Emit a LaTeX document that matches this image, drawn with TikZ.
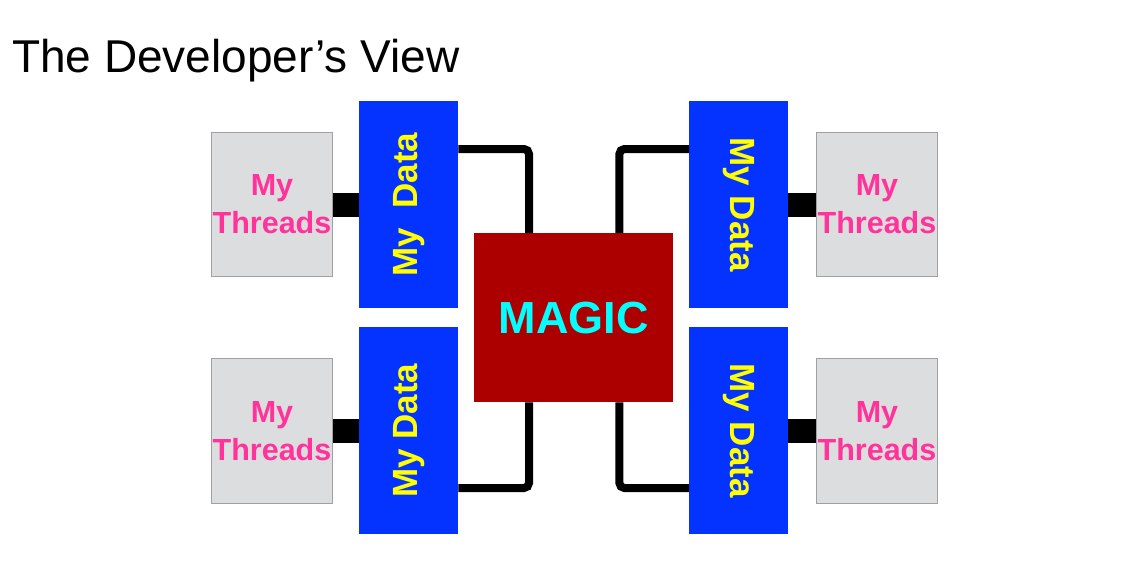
\documentclass[tikz,border=0pt]{standalone}
\usepackage{fontspec}
\setmainfont{Liberation Sans}
\usepackage{graphicx}
\usetikzlibrary{positioning,calc}
\definecolor{datablue}{RGB}{4,51,255}
\definecolor{datayellow}{RGB}{255,255,0}
\definecolor{magicred}{RGB}{172,0,0}
\definecolor{magiccyan}{RGB}{0,255,255}
\definecolor{threadgray}{RGB}{220,221,223}
\definecolor{threadedge}{RGB}{160,160,160}
\definecolor{threadpink}{RGB}{255,51,153}

\begin{document}
\begin{tikzpicture}[x=1pt,y=-1pt,
  threadbox/.style={draw=threadedge,line width=1pt,fill=threadgray,anchor=north west,
    inner sep=0pt,minimum width=121pt,minimum height=144pt,align=center,
    font=\fontsize{30.5}{38}\selectfont\bfseries,text=threadpink},
  databox/.style={fill=datablue,anchor=north west,inner sep=0pt,
    minimum width=99pt,minimum height=207pt,
    font=\fontsize{35}{42}\selectfont\bfseries,text=datayellow},
  magicbox/.style={fill=magicred,anchor=north west,inner sep=0pt,
    minimum width=199pt,minimum height=169pt,
    font=\fontsize{45}{54}\selectfont\bfseries,text=magiccyan},
  link/.style={line width=8pt,rounded corners=5pt},
  stub/.style={line width=24pt}]
  \useasboundingbox (0,0) rectangle (1131,565);

  % ── Title ──
  \node[anchor=base west,inner sep=0pt,font=\fontsize{46}{55}\selectfont] (title) at (12,72) {The Developer’s View};

  % ── Centre ──
  \node[magicbox] (magic) at (474,233) {MAGIC};

  % ── Data blocks ──
  \node[databox] (dataTL) at (359,101) {\rotatebox{90}{My\ \ Data}};
  \node[databox] (dataBL) at (359,327) {\rotatebox{90}{My Data}};
  \node[databox] (dataTR) at (689,101) {\rotatebox{-90}{My Data}};
  \node[databox] (dataBR) at (689,327) {\rotatebox{-90}{My Data}};

  % ── Thread blocks ──
  \node[threadbox] (thrTL) at (211,132) {My\\Threads};
  \node[threadbox,minimum height=145pt] (thrBL) at (211,358) {My\\Threads};
  \node[threadbox] (thrTR) at (816,132) {My\\Threads};
  \node[threadbox,minimum height=145pt] (thrBR) at (816,358) {My\\Threads};

  % ── Threads to data ──
  \draw[stub] (thrTL.east) -- (thrTL.east -| dataTL.west);
  \draw[stub] (thrBL.east) -- (thrBL.east -| dataBL.west);
  \draw[stub] (thrTR.west) -- (thrTR.west -| dataTR.east);
  \draw[stub] (thrBR.west) -- (thrBR.west -| dataBR.east);

  % ── Data to magic ──
  \draw[link] (dataTL.east |- 0,149) -| ([xshift=55pt]magic.north west);
  \draw[link] (dataBL.east |- 0,488) -| ([xshift=55pt]magic.south west);
  \draw[link] (dataTR.west |- 0,149) -| ([xshift=-54pt]magic.north east);
  \draw[link] (dataBR.west |- 0,488) -| ([xshift=-54pt]magic.south east);
\end{tikzpicture}
\end{document}
